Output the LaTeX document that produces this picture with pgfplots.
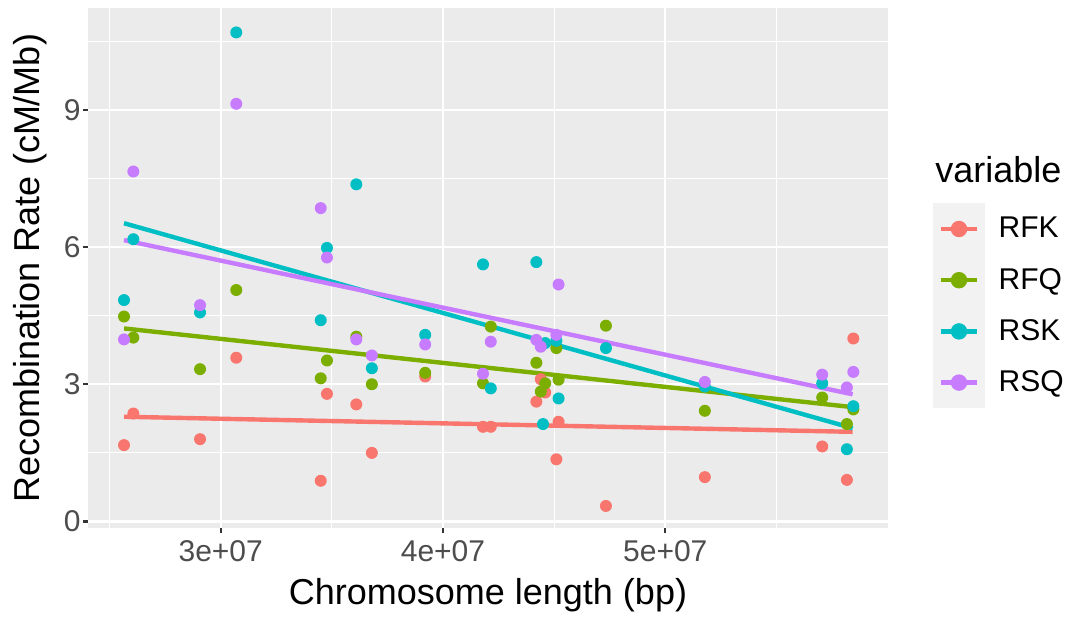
\documentclass[border=0pt]{standalone}
\usepackage{fontspec}
\setmainfont{Liberation Sans}
\usepackage{pgfplots}
\usepackage{pgfplotstable}
\pgfplotsset{compat=1.18}
\definecolor{cRFK}{HTML}{F8766D}
\definecolor{cRFQ}{HTML}{7CAE00}
\definecolor{cRSK}{HTML}{00BFC4}
\definecolor{cRSQ}{HTML}{C77CFF}
\definecolor{gray92}{HTML}{EBEBEB}
\definecolor{gray95}{HTML}{F2F2F2}
\definecolor{gray30}{HTML}{4D4D4D}
\definecolor{gray20}{HTML}{333333}

\pgfplotstableread{
x y
25650000 1.67
26070000 2.36
29070000 1.80
30700000 3.58
34500000 0.89
34780000 2.79
36100000 2.56
36800000 1.50
39200000 3.17
41800000 2.07
42150000 2.07
44200000 2.62
44400000 3.11
44600000 2.82
45100000 1.36
45200000 2.18
47330000 0.34
51780000 0.97
57060000 1.64
58170000 0.91
58460000 4.00
}\tRFK
\pgfplotstableread{
x y
25650000 4.48
26070000 4.02
29070000 3.33
30700000 5.06
34500000 3.13
34780000 3.52
36100000 4.04
36800000 3.00
39200000 3.25
41800000 3.02
42150000 4.26
44200000 3.47
44400000 2.84
44600000 3.02
45100000 3.79
45200000 3.10
47330000 4.28
51780000 2.42
57060000 2.71
58170000 2.13
58460000 2.45
}\tRFQ
\pgfplotstableread{
x y
25650000 4.84
26070000 6.17
29070000 4.57
30700000 10.69
34500000 4.40
34780000 5.98
36100000 7.37
36800000 3.35
39200000 4.08
41800000 5.62
42150000 2.91
44200000 5.67
44500000 2.13
44600000 3.90
45100000 3.95
45200000 2.69
47330000 3.79
51780000 2.95
57060000 3.02
58170000 1.58
58460000 2.52
}\tRSK
\pgfplotstableread{
x y
25650000 3.98
26070000 7.65
29070000 4.73
30700000 9.13
34500000 6.85
34780000 5.77
36100000 3.98
36800000 3.63
39200000 3.87
41800000 3.23
42150000 3.93
44200000 3.97
44400000 3.82
45100000 4.08
45200000 5.18
51780000 3.05
57060000 3.21
58170000 2.93
58460000 3.27
}\tRSQ

\begin{document}
\begin{tikzpicture}
\begin{axis}[
 at={(0pt,0pt)}, anchor=south west,
 scale only axis, width=400pt, height=260pt,
 xmin=2.403e7, xmax=6.002e7, ymin=-0.142, ymax=11.224,
 axis background/.style={fill=gray92},
 axis line style={draw=none},
 tick align=outside, tick pos=left,
 major tick length=2.5pt, minor tick length=0pt,
 tick style={gray20, line width=1.1pt},
 xtick={3e7,4e7,5e7}, xticklabels={3e+07,4e+07,5e+07},
 minor xtick={2.5e7,3.5e7,4.5e7,5.5e7},
 ytick={0,3,6,9}, minor ytick={1.5,4.5,7.5,10.5},
 scaled x ticks=false,
 grid=both,
 major grid style={white, line width=1.1pt},
 minor grid style={white, line width=0.55pt},
 /pgf/number format/assume math mode=true,
 ticklabel style={font=\fontsize{15}{18}\selectfont, text=gray30},
 xticklabel style={inner sep=0pt, anchor=north, yshift=-3.5pt},
 yticklabel style={inner sep=0pt, anchor=east, xshift=-1pt},
 xlabel={Chromosome length (bp)},
 ylabel={Recombination Rate (cM/Mb)},
 label style={font=\fontsize{18}{21.6}\selectfont},
 xlabel style={at={(axis description cs:0.5,-0.1288)}, anchor=center},
 ylabel style={at={(axis description cs:-0.0725,0.5)}, anchor=center},
 legend style={at={(axis description cs:1.05625,0.625)}, anchor=north west,
   draw=none, fill=none, inner sep=0pt, row sep=0pt,
   font=\fontsize{15}{18}\selectfont,
   /tikz/every odd column/.append style={column sep=5pt}},
 legend cell align=left,
 legend image code/.code={
   \fill[gray95] (0pt,-11.7pt) rectangle (23.4pt,11.7pt);
   \draw[#1] (2.5pt,0pt) -- (20.9pt,0pt);
   \fill[#1] (11.7pt,0pt) circle (3pt);
 },
]
\addplot[forget plot, color=cRFK, only marks, mark=*, mark size=3pt, mark options={line width=0pt, draw opacity=0}] table[x=x,y=y] {\tRFK};
\addplot[forget plot, color=cRFQ, only marks, mark=*, mark size=3pt, mark options={line width=0pt, draw opacity=0}] table[x=x,y=y] {\tRFQ};
\addplot[forget plot, color=cRSK, only marks, mark=*, mark size=3pt, mark options={line width=0pt, draw opacity=0}] table[x=x,y=y] {\tRSK};
\addplot[forget plot, color=cRSQ, only marks, mark=*, mark size=3pt, mark options={line width=0pt, draw opacity=0}] table[x=x,y=y] {\tRSQ};
\addplot[cRFK, line width=2.2pt, no marks] coordinates {(25650000,2.29) (58430000,1.96)};
\addlegendentry{RFK}
\addplot[cRFQ, line width=2.2pt, no marks] coordinates {(25650000,4.22) (58430000,2.50)};
\addlegendentry{RFQ}
\addplot[cRSK, line width=2.2pt, no marks] coordinates {(25650000,6.52) (58430000,2.04)};
\addlegendentry{RSK}
\addplot[cRSQ, line width=2.2pt, no marks] coordinates {(25650000,6.15) (58430000,2.78)};
\addlegendentry{RSQ}
\end{axis}
\node[anchor=west, inner sep=0pt, font=\fontsize{18}{21.6}\selectfont] at (423.5pt,179pt) {variable};
\pgfresetboundingbox
\path (-44pt,-44pt) rectangle (490.5pt,264pt);
\end{tikzpicture}
\end{document}
